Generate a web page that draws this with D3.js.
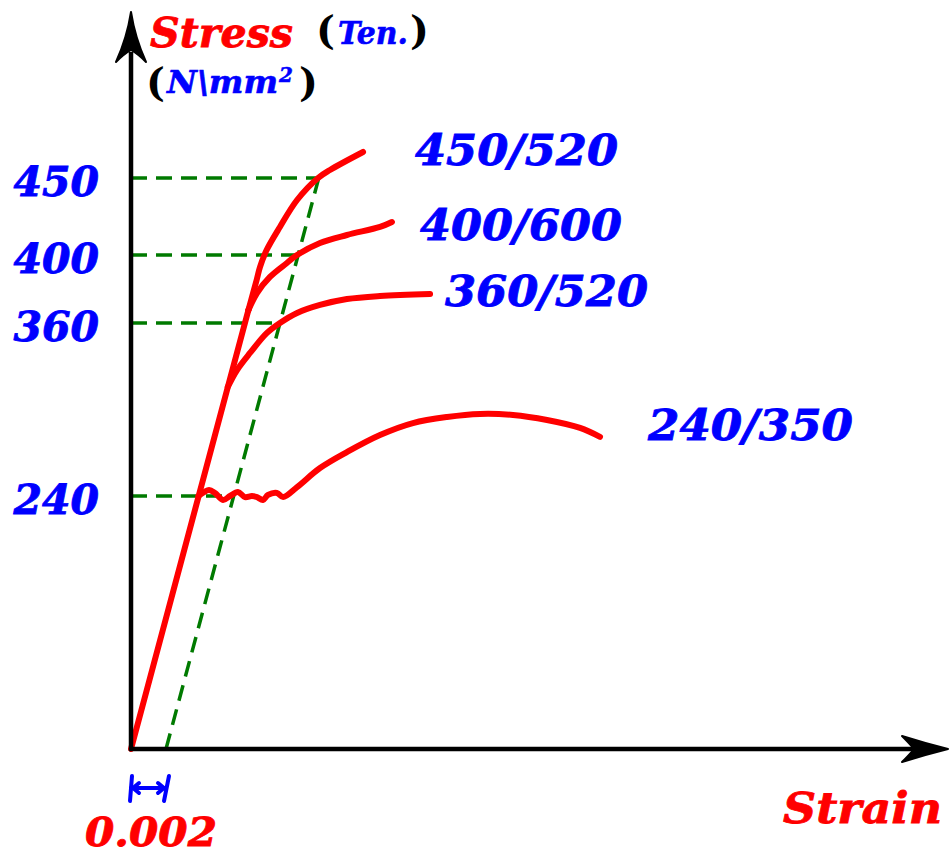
<!DOCTYPE html>
<html>
<head>
<meta charset="utf-8">
<script src="https://cdn.jsdelivr.net/npm/d3@7"></script>
<style>
  body { margin: 0; background: #fff; }
  text { font-family: "DejaVu Serif", serif; font-weight: bold; font-style: italic; }
</style>
</head>
<body>
<svg width="952" height="856"></svg>
<script>
// stress ticks (N/mm2) and the 0.2% proof offset
const stressTicks = [240, 360, 400, 450];
const offsetStrain = 0.002;
const gradeLabels = ["450/520", "400/600", "360/520", "240/350"];

// elastic part, shared by all grades: [strain, stress]
const elasticLine = [[0, 0], [0.00671, 367.6]];

// plastic parts
const curve450 = [[0.00671, 367.6], [0.00718, 385.3], [0.00737, 392.9], [0.00775, 403.2],
  [0.00851, 418.2], [0.00949, 435.7], [0.01069, 450], [0.01137, 455.2], [0.01326, 466.9]];
const curve400 = [[0.00671, 367.6], [0.00720, 377.6], [0.00794, 387.1], [0.00891, 395.3],
  [0.00949, 400], [0.01080, 407.8], [0.01234, 413.0], [0.01423, 418.2], [0.01491, 421.4]];
const curve360 = [[0.00553, 315.6], [0.00606, 327.4], [0.00680, 339.2], [0.00777, 353.1],
  [0.00851, 360], [0.00949, 365.9], [0.01080, 370.6], [0.01234, 374.1], [0.01423, 375.9], [0.01709, 377.1]];
const curve240 = [[0.00386, 240], [0.00446, 244.2], [0.00480, 242.1], [0.00526, 236.2],
  [0.00566, 240], [0.00611, 242.8], [0.00651, 239.0], [0.00691, 240], [0.00720, 239.0],
  [0.00754, 236.2], [0.00783, 240.7], [0.00834, 242.1], [0.00869, 239.0], [0.00949, 246.2],
  [0.01080, 259.4], [0.01234, 270.5], [0.01423, 282.3], [0.01611, 290.6], [0.01806, 294.8],
  [0.01994, 296.9], [0.02183, 296.2], [0.02377, 292.7], [0.02566, 287.2], [0.02680, 281.0]];

const curves = [curve450, curve400, curve360, curve240];

const svg = d3.select("svg");
const red = "#ff0000", blue = "#0000ff", green = "#007a00";

// schematic scales (the stress axis is not to scale in the original sketch)
const x = d3.scaleLinear().domain([0, offsetStrain]).range([131, 166]);
const y = d3.scaleLinear().domain([0, ...stressTicks]).range([749, 496, 323, 255, 178]);

// elastic line and 0.2% offset line, in pixels
const ex = yp => x(0) + (x(elasticLine[1][0]) - x(0)) * (y(0) - yp) / (y(0) - y(elasticLine[1][1]));
const shift = x(offsetStrain) - x(0);
const topStress = d3.max(stressTicks);

// green dashed guides
const guides = svg.append("g")
  .attr("stroke", green).attr("stroke-width", 3.5)
  .attr("stroke-dasharray", "16,9").attr("fill", "none");

guides.selectAll("line.h")
  .data(stressTicks).enter().append("line")
  .attr("class", "h")
  .attr("x1", x(0)).attr("x2", d => ex(y(d)) + shift)
  .attr("y1", d => y(d)).attr("y2", d => y(d));

guides.append("line")
  .attr("x1", x(offsetStrain)).attr("y1", y(0))
  .attr("x2", ex(y(topStress)) + shift).attr("y2", y(topStress));

// red curves
const straight = d3.line().x(d => x(d[0])).y(d => y(d[1]));
const smooth = d3.line().x(d => x(d[0])).y(d => y(d[1])).curve(d3.curveCatmullRom.alpha(0.5));

const g = svg.append("g")
  .attr("stroke", red).attr("stroke-width", 6).attr("fill", "none")
  .attr("stroke-linecap", "round").attr("stroke-linejoin", "round");

g.append("path").attr("d", straight(elasticLine));
g.selectAll("path.c")
  .data(curves).enter().append("path")
  .attr("class", "c")
  .attr("d", d => smooth(d));

// axes with arrow heads
const axes = svg.append("g").attr("stroke", "#000").attr("stroke-width", 4.5).attr("fill", "none");
axes.append("line").attr("x1", x(0)).attr("y1", y(0) + 2).attr("x2", x(0)).attr("y2", 52);
axes.append("line").attr("x1", x(0) - 2).attr("y1", y(0)).attr("x2", 914).attr("y2", y(0));

svg.append("path")
  .attr("d", "M131,12 Q135,38 146,62 Q138,54 131,50 Q124,54 116,62 Q127,38 131,12 Z")
  .attr("fill", "#000").attr("stroke", "#000").attr("stroke-width", 2).attr("stroke-linejoin", "round");
svg.append("path")
  .attr("d", "M948,749 Q924,743 902,736 Q910,744 914,749 Q910,754 902,762 Q924,755 948,749 Z")
  .attr("fill", "#000").attr("stroke", "#000").attr("stroke-width", 2).attr("stroke-linejoin", "round");

// stress tick labels
const yAxis = svg.append("g")
  .attr("transform", `translate(${x(0)},0)`)
  .call(d3.axisLeft(y).tickValues(stressTicks).tickSize(0).tickPadding(32));
yAxis.select(".domain").remove();
yAxis.selectAll("text")
  .attr("fill", blue)
  .attr("stroke", blue).attr("stroke-width", 0.8)
  .attr("dy", "0.42em")
  .style("font-family", "'DejaVu Serif', serif")
  .style("font-size", "41px")
  .style("font-weight", "bold")
  .style("font-style", "italic");

// grade labels
const labelPos = [[415, 165, 203], [420, 240, 202], [445, 306, 203], [648, 440, 205]];
svg.selectAll("text.grade")
  .data(gradeLabels).enter().append("text")
  .attr("class", "grade")
  .attr("x", (d, i) => labelPos[i][0]).attr("y", (d, i) => labelPos[i][1])
  .attr("textLength", (d, i) => labelPos[i][2]).attr("lengthAdjust", "spacingAndGlyphs")
  .attr("fill", blue).attr("stroke", blue).attr("stroke-width", 0.8)
  .style("font-size", "43px")
  .text(d => d);

// axis titles
svg.append("text").attr("x", 150).attr("y", 47).attr("fill", red)
  .attr("stroke", red).attr("stroke-width", 0.8)
  .attr("textLength", 143).attr("lengthAdjust", "spacingAndGlyphs")
  .style("font-size", "41px").text("Stress");
svg.append("text").attr("x", 316).attr("y", 44).attr("fill", "#000")
  .style("font-size", "40px").style("font-style", "normal").text("(");
svg.append("text").attr("x", 338).attr("y", 44).attr("fill", blue)
  .attr("stroke", blue).attr("stroke-width", 0.6)
  .attr("textLength", 70).attr("lengthAdjust", "spacingAndGlyphs")
  .style("font-size", "31px").text("Ten.");
svg.append("text").attr("x", 410).attr("y", 44).attr("fill", "#000")
  .style("font-size", "40px").style("font-style", "normal").text(")");

svg.append("text").attr("x", 146).attr("y", 96).attr("fill", "#000")
  .style("font-size", "40px").style("font-style", "normal").text("(");
svg.append("text").attr("x", 167).attr("y", 93).attr("fill", blue)
  .attr("stroke", blue).attr("stroke-width", 0.6)
  .attr("textLength", 111).attr("lengthAdjust", "spacingAndGlyphs")
  .style("font-size", "31px").text("N\\mm");
svg.append("text").attr("x", 279).attr("y", 82).attr("fill", blue)
  .attr("stroke", blue).attr("stroke-width", 0.5)
  .style("font-size", "20px").text("2");
svg.append("text").attr("x", 299).attr("y", 96).attr("fill", "#000")
  .style("font-size", "40px").style("font-style", "normal").text(")");

svg.append("text").attr("x", 783).attr("y", 823).attr("fill", red)
  .attr("stroke", red).attr("stroke-width", 0.8)
  .attr("textLength", 159).attr("lengthAdjust", "spacingAndGlyphs")
  .style("font-size", "42px").text("Strain");

// 0.002 offset dimension
const dim = svg.append("g").attr("stroke", blue).attr("stroke-width", 4)
  .attr("fill", "none").attr("stroke-linecap", "round").attr("stroke-linejoin", "round");
const x0 = x(0), x1 = x(offsetStrain), dy = 788;
dim.append("line").attr("x1", x0).attr("y1", dy).attr("x2", x1).attr("y2", dy);
dim.append("line").attr("x1", x0 - 1).attr("y1", dy + 13).attr("x2", x0 + 1).attr("y2", dy - 12);
dim.append("line").attr("x1", x1 - 2).attr("y1", dy + 13).attr("x2", x1 + 3).attr("y2", dy - 12);
dim.append("path").attr("d", `M${x0 + 8},${dy - 5} L${x0 + 2},${dy} L${x0 + 8},${dy + 5}`);
dim.append("path").attr("d", `M${x1 - 8},${dy - 5} L${x1 - 2},${dy} L${x1 - 8},${dy + 5}`);

svg.append("text").attr("x", 85).attr("y", 846).attr("fill", red)
  .attr("stroke", red).attr("stroke-width", 0.8)
  .attr("textLength", 132).attr("lengthAdjust", "spacingAndGlyphs")
  .style("font-size", "40px").text("0.002");
</script>
</body>
</html>
